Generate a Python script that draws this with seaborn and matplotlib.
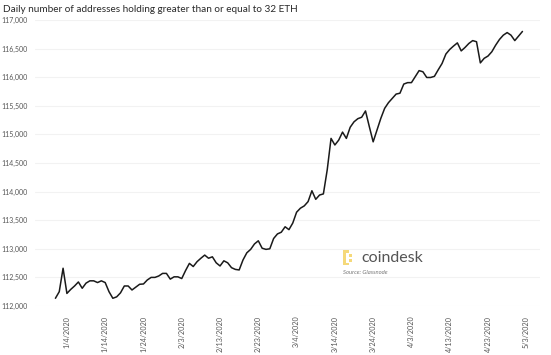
import pandas as pd
import numpy as np
import matplotlib
matplotlib.use('Agg')
import matplotlib.pyplot as plt
import matplotlib.dates as mdates
from matplotlib.patches import Rectangle
from matplotlib.ticker import FuncFormatter
import seaborn as sns

# Daily count of addresses holding >= 32 ETH, 1/1/2020 .. 5/2/2020
start_date = '2020-01-01'
addresses = [
    112135, 112250, 112660, 112220, 112290, 112350, 112420, 112310, 112400, 112440,
    112440, 112410, 112440, 112410, 112250, 112135, 112160, 112230, 112350, 112350,
    112280, 112330, 112380, 112385, 112455, 112500, 112500, 112525, 112570, 112570,
    112470, 112510, 112510, 112480, 112620, 112745, 112690, 112775, 112835, 112890,
    112835, 112860, 112755, 112700, 112790, 112755, 112670, 112640, 112630, 112805,
    112930, 112990, 113085, 113140, 113010, 112990, 113000, 113180, 113260, 113290,
    113385, 113335, 113450, 113640, 113710, 113750, 113825, 114015, 113865, 113940,
    113960, 114380, 114930, 114815, 114900, 115040, 114930, 115125, 115220, 115275,
    115300, 115410, 115135, 114870, 115075, 115280, 115455, 115555, 115630, 115705,
    115720, 115880, 115905, 115905, 116010, 116115, 116095, 115995, 115995, 116015,
    116130, 116240, 116405, 116485, 116545, 116600, 116460, 116520, 116590, 116640,
    116620, 116250, 116330, 116370, 116445, 116560, 116660, 116735, 116780, 116735,
    116640, 116720, 116800,
]
y_ticks = [112000, 112500, 113000, 113500, 114000, 114500, 115000, 115500, 116000, 116500, 117000]
x_tick_dates = ['2020-01-04', '2020-01-14', '2020-01-24', '2020-02-03', '2020-02-13', '2020-02-23',
                '2020-03-04', '2020-03-14', '2020-03-24', '2020-04-03', '2020-04-13', '2020-04-23',
                '2020-05-03']

df = pd.DataFrame({'date': pd.date_range(start_date, periods=len(addresses), freq='D'),
                   'addresses': addresses})

sns.set_style('white')
plt.rcParams['font.family'] = ['Lato', 'DejaVu Sans']

fig = plt.figure(figsize=(5.51, 3.55), dpi=100)
ax = fig.add_axes([35 / 551, 49 / 355, 505 / 551, 286 / 355])

sns.lineplot(data=df, x='date', y='addresses', color='#1a1a1a', linewidth=1.1, ax=ax, clip_on=False)

ax.set_ylim(112000, 117000)
ax.set_xlim(pd.Timestamp('2019-12-26 16:00'), pd.Timestamp('2020-05-06 14:00'))
ax.set_yticks(y_ticks)
ax.yaxis.set_major_formatter(FuncFormatter(lambda v, p: f'{int(v):,}'))
ax.set_xticks(pd.to_datetime(x_tick_dates))
ax.xaxis.set_major_formatter(FuncFormatter(
    lambda v, p: f'{mdates.num2date(v).month}/{mdates.num2date(v).day}/{mdates.num2date(v).year}'))
ax.tick_params(axis='x', labelrotation=90, labelsize=5.2, colors='#555555', pad=7, length=0)
ax.tick_params(axis='y', labelsize=5.0, colors='#555555', pad=5, length=0)
ax.grid(axis='y', color='#f2f2f2', linewidth=0.8)
ax.grid(axis='x', visible=False)
for s in ax.spines.values():
    s.set_visible(False)
ax.set_xlabel('')
ax.set_ylabel('')

fig.text(3 / 551, 1 - 9 / 355, 'Daily number of addresses holding greater than or equal to 32 ETH',
         fontsize=7.2, color='#2a2a2a', va='center', ha='left')

# coindesk logo
logo = '#f5d97a'
for (lx, ly, w, h) in [(343, 250, 2.5, 15), (343, 250, 6, 2.5), (343, 262.5, 6, 2.5),
                       (349, 254, 2.5, 2.5), (349, 259, 2.5, 2.5)]:
    fig.add_artist(Rectangle((lx / 551, 1 - (ly + h) / 355), w / 551, h / 355,
                             transform=fig.transFigure, facecolor=logo, edgecolor='none'))
fig.text(361 / 551, 1 - 258 / 355, 'coindesk', fontsize=11.5, color='#555555', va='center', ha='left')
fig.text(343 / 551, 1 - 273 / 355, 'Source: Glassnode', fontsize=4.2, color='#777777',
         style='italic', va='center', ha='left')

fig.savefig('out.png', dpi=100)
